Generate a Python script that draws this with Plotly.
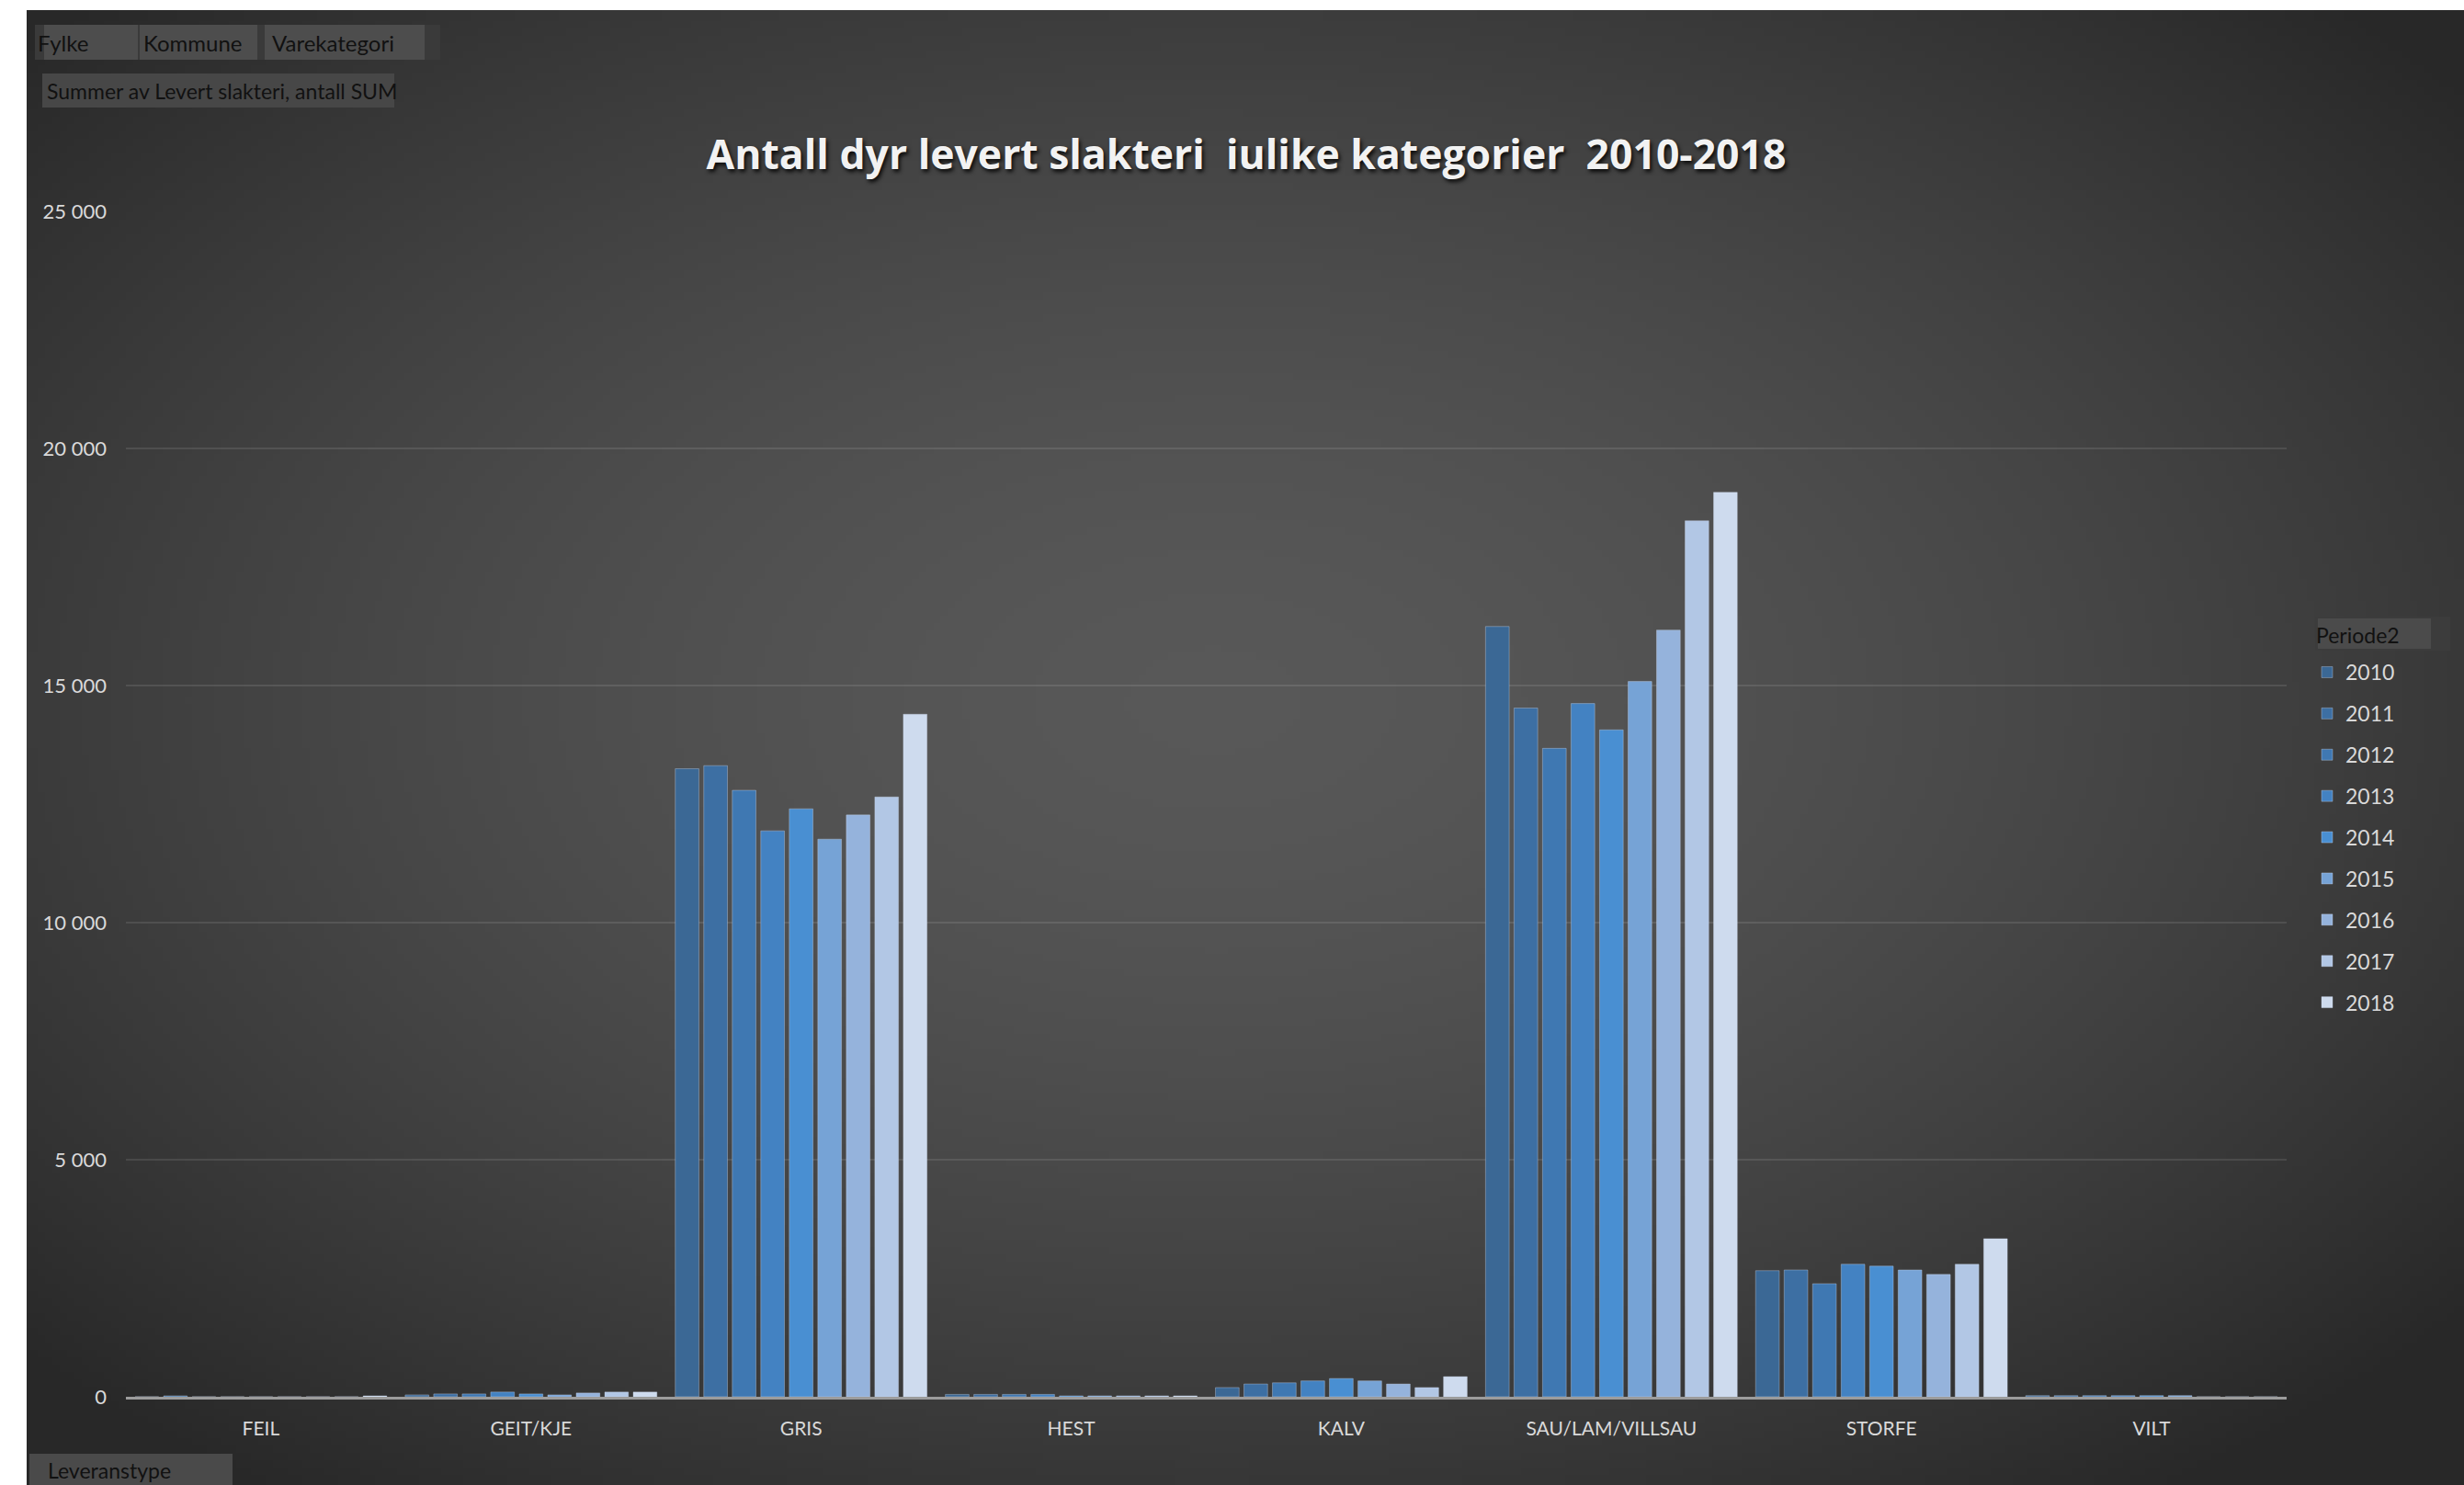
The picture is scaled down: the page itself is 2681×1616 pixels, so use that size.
import zlib, struct, base64, math
import plotly.graph_objects as go

# ---------------- data ----------------
categories = ["FEIL", "GEIT/KJE", "GRIS", "HEST", "KALV", "SAU/LAM/VILLSAU", "STORFE", "VILT"]
years = ["2010", "2011", "2012", "2013", "2014", "2015", "2016", "2017", "2018"]
v2010 = [0, 40, 13245, 50, 195, 16245, 2660, 25]
v2011 = [20, 60, 13310, 50, 270, 14525, 2675, 25]
v2012 = [0, 60, 12790, 50, 295, 13675, 2385, 25]
v2013 = [0, 100, 11935, 50, 335, 14620, 2795, 25]
v2014 = [0, 60, 12400, 20, 385, 14065, 2755, 25]
v2015 = [0, 40, 11760, 20, 335, 15085, 2675, 25]
v2016 = [0, 80, 12270, 20, 270, 16170, 2580, 0]
v2017 = [0, 100, 12650, 20, 195, 18475, 2795, 0]
v2018 = [20, 100, 14395, 20, 425, 19075, 3335, 0]
values = [v2010, v2011, v2012, v2013, v2014, v2015, v2016, v2017, v2018]
colors = ["#3b6895", "#3d6fa3", "#3f78b2", "#4382c2", "#498fd2",
          "#76a3d6", "#95b3dc", "#b2c7e5", "#cedbee"]
y_ticks = [0, 5000, 10000, 15000, 20000, 25000]

# ---------------- geometry (page pixels) ----------------
W, H = 2681, 1616
PL, PR, PT, PB = 137, 2488, 230, 1520          # plot area in page px
L, R, T, B = PL, W - PR, PT, H - PB
PW, PH = PR - PL, PB - PT


def px2x(X):
    return (X - PL) / PW


def px2y(Y):
    return (PB - Y) / PH


# ---------------- background gradient image ----------------
def make_png(w, h, fn):
    raw = bytearray()
    for yy in range(h):
        raw.append(0)
        for xx in range(w):
            raw.extend(fn(xx, yy))

    def chunk(t, d):
        c = struct.pack(">I", len(d)) + t + d
        return c + struct.pack(">I", zlib.crc32(t + d) & 0xFFFFFFFF)

    png = (b"\x89PNG\r\n\x1a\n"
           + chunk(b"IHDR", struct.pack(">IIBBBBB", w, h, 8, 2, 0, 0, 0))
           + chunk(b"IDAT", zlib.compress(bytes(raw), 9))
           + chunk(b"IEND", b""))
    return "data:image/png;base64," + base64.b64encode(png).decode()


BX0, BY0 = 29, 11
S = 8
iw, ih = (W - BX0) // S + 1, (H - BY0) // S + 1
cx, cy = (1320 - BX0) / S, (760 - BY0) / S
rx, ry = 1350 / S, 820 / S


def bg(xx, yy):
    t = math.sqrt(((xx - cx) / rx) ** 2 + ((yy - cy) / ry) ** 2)
    f = min(t / 1.3, 1.0) ** 1.6
    c = int(round(88 - (88 - 40) * f))
    return (c, c, c)


bg_uri = make_png(iw, ih, bg)

# ---------------- figure ----------------
fig = go.Figure()
for yr, vals, col in zip(years, values, colors):
    fig.add_trace(go.Bar(
        x=categories, y=vals, name=yr, legendgroup=yr,
        marker=dict(color=col, line=dict(color="rgba(210,222,240,0.35)", width=1)),
    ))

FONT = "Lato"
shapes = []
annotations = []


def button(x0, x1, y0, y1, fill):
    shapes.append(dict(type="rect", xref="paper", yref="paper",
                       x0=px2x(x0), x1=px2x(x1), y0=px2y(y1), y1=px2y(y0),
                       fillcolor=fill, line=dict(width=0), layer="below"))


def label(text, X, Y, size, color="#111111"):
    annotations.append(dict(text=text, xref="paper", yref="paper",
                            x=px2x(X), y=px2y(Y), xanchor="left", yanchor="middle",
                            showarrow=False, font=dict(family=FONT, size=size, color=color)))


button(38, 479, 27, 65, "#3a3a3a")
button(48, 150, 27, 65, "#4d4d4d")
button(152, 280, 27, 65, "#4d4d4d")
button(288, 462, 27, 65, "#4d4d4d")
button(46, 429, 80, 117, "#474747")
button(32, 253, 1582, 1616, "#4a4a4a")
button(2519, 2666, 671, 708, "#3c3c3c")
button(2522, 2645, 673, 706, "#4b4b4b")

label("Fylke", 39, 47, 24)
label("Kommune", 154, 47, 24)
label("Varekategori", 294, 47, 24)
label("Summer av Levert slakteri, antall SUM", 49, 99, 23)
label("Leveranstype", 50, 1600, 23)
label("Periode2", 2518, 691, 23)

fig.update_layout(
    width=W, height=H,
    margin=dict(l=L, r=R, t=T, b=B, pad=0),
    paper_bgcolor="#ffffff",
    plot_bgcolor="rgba(0,0,0,0)",
    separators=", ",
    barmode="group", bargap=0.05, bargroupgap=0.17,
    font=dict(family=FONT, color="#d9d9d9"),
    title=dict(
        text="Antall dyr levert slakteri  iulike kategorier  2010-2018",
        x=px2x(1356), xref="paper", xanchor="center",
        y=1 - 168 / H, yref="container", yanchor="middle",
        font=dict(family="Open Sans", size=44.5, color="#f2f2f2", weight="bold",
                  shadow="2px 3px 4px rgba(0,0,0,0.85)"),
    ),
    xaxis=dict(
        showgrid=False, showline=True, linecolor="#9c9c9c", linewidth=3,
        ticks="", tickfont=dict(family=FONT, size=21, color="#d9d9d9"),
        ticklabelstandoff=14, fixedrange=True,
    ),
    yaxis=dict(
        range=[0, 25000], tickvals=y_ticks, tickformat=",d",
        showgrid=True, gridcolor="rgba(255,255,255,0.10)", gridwidth=1.5,
        zeroline=False, showline=False, ticks="",
        tickfont=dict(family=FONT, size=22, color="#d9d9d9"),
        ticklabelstandoff=20, fixedrange=True,
    ),
    legend=dict(
        x=px2x(2512), xanchor="left", y=px2y(710), yanchor="top",
        bgcolor="rgba(0,0,0,0)", traceorder="grouped", tracegroupgap=12,
        font=dict(family=FONT, size=23, color="#d9d9d9"),
        itemclick=False, itemdoubleclick=False,
    ),
    shapes=shapes,
    annotations=annotations,
    images=[dict(source=bg_uri, xref="paper", yref="paper",
                 x=px2x(BX0), y=px2y(BY0), sizex=(W - BX0) / PW, sizey=(H - BY0) / PH,
                 xanchor="left", yanchor="top", sizing="stretch", layer="below")],
    showlegend=True,
)

fig.write_html("out.html", config={"displayModeBar": False},
               post_script="document.body.style.margin='0';document.body.style.overflow='hidden';")
